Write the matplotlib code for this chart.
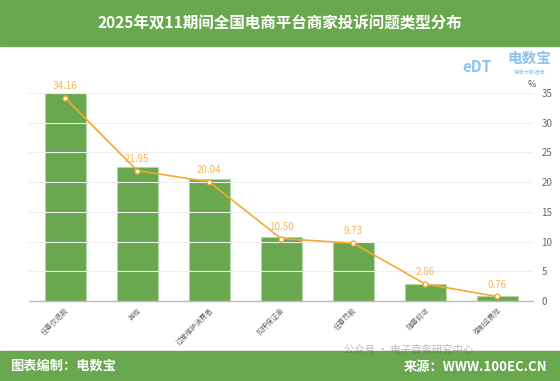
import numpy as np
import matplotlib.pyplot as plt
from matplotlib.patches import Rectangle

plt.rcParams['font.family'] = ['Noto Sans CJK SC', 'DejaVu Sans']

categories = ['任意仅退款', '其他', '过度维护消费者', '扣押保证金', '任意罚款', '随意封店', '强制运费险']
values = [34.16, 21.95, 20.04, 10.50, 9.73, 2.86, 0.76]
y_ticks = [0, 5, 10, 15, 20, 25, 30, 35]

green = '#69a84f'
orange = '#f7a830'

fig = plt.figure(figsize=(5.6, 3.81), dpi=100)

# header / footer bands
fig.patches.append(Rectangle((0, 0.878), 1, 0.122, transform=fig.transFigure,
                             color=green, zorder=0))
fig.patches.append(Rectangle((0, 0), 1, 0.079, transform=fig.transFigure,
                             color=green, zorder=0))
fig.text(0.5, 0.94, '2025年双11期间全国电商平台商家投诉问题类型分布', ha='center', va='center',
         color='white', fontsize=11.2, fontweight='bold')
fig.text(0.018, 0.04, '图表编制：电数宝', ha='left', va='center', color='white',
         fontsize=9.5, fontweight='bold')
fig.text(0.978, 0.038, '来源：WWW.100EC.CN', ha='right', va='center', color='white',
         fontsize=9.5, fontweight='bold')
fig.text(0.73, 0.083, '公众号 · 电子商务研究中心', ha='center', va='center', color='#555555',
         fontsize=7.5, alpha=0.4)

# logo
fig.text(0.852, 0.823, 'eDT', ha='center', va='center', color='#8cc4ef',
         fontsize=11, fontweight='bold', style='italic')
fig.text(0.945, 0.848, '电数宝', ha='center', va='center', color='#8cc4ef',
         fontsize=10.5, fontweight='bold')
fig.text(0.945, 0.81, '电商大数据库', ha='center', va='center', color='#8cc4ef',
         fontsize=3.8)

ax = fig.add_axes([0.052, 0.21, 0.9, 0.546])
x = np.arange(len(categories))
ax.bar(x, values, width=0.57, color=green, edgecolor='#b5d6a7', linewidth=0.8, zorder=2)
ax.set_ylim(0, values[0])
ax.set_xlim(-0.5, len(categories) - 0.5)
ax.set_yticks([])
for s in ['top', 'left', 'right']:
    ax.spines[s].set_visible(False)
ax.spines['bottom'].set_color('#bbbbbb')
ax.spines['bottom'].set_linewidth(1)
ax.set_xticks(x)
ax.set_xticklabels(categories, rotation=45, ha='right', rotation_mode='anchor',
                   fontsize=5, color='#666666')
ax.tick_params(axis='x', length=0, pad=4)

ax2 = ax.twinx()
ax2.set_ylim(0, 35)
ax2.set_yticks(y_ticks)
ax2.tick_params(axis='y', length=0, labelsize=7, labelcolor='#666666', pad=6)
for s in ['top', 'left', 'right', 'bottom']:
    ax2.spines[s].set_visible(False)
for t in y_ticks[1:]:
    ax2.axhline(t, color='#eeeeee', linewidth=0.8, zorder=0)
ax2.plot(x, values, color=orange, linewidth=1.2, marker='o', markersize=3.5,
         markerfacecolor='white', markeredgecolor=orange, markeredgewidth=1, zorder=3)
for xi, v in zip(x, values):
    ax2.annotate(f'{v:.2f}', (xi, v), xytext=(0, 5), textcoords='offset points',
                 ha='center', va='bottom', fontsize=7, color='#f9b354')
ax.set_zorder(ax2.get_zorder() - 1)
ax2.patch.set_visible(False)
fig.text(0.95, 0.777, '%', ha='center', va='center', fontsize=6.5, color='#555555')

fig.savefig('out.png', dpi=100)
